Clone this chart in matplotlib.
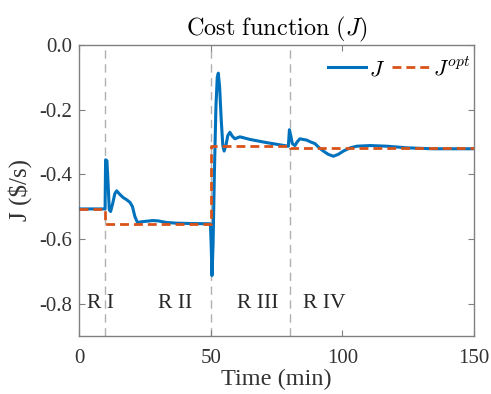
import matplotlib
matplotlib.use("Agg")
import matplotlib.pyplot as plt

plt.rcParams['font.family'] = ['Liberation Serif', 'DejaVu Serif']
plt.rcParams['mathtext.fontset'] = 'cm'

t_J = [0, 9.9, 10.1, 10.6, 11.0, 11.5, 12.0, 12.8, 13.6, 14.3, 15.5, 16.8, 18.0, 19.4,
       20.3, 21.2, 22.2, 23.5, 25.7, 28.0, 30.0, 33.3, 37.0, 42.0, 49.9, 50.2, 50.5,
       50.9, 51.4, 52.0, 52.5, 52.9, 53.4, 54.0, 54.6, 55.1, 55.8, 56.5, 57.3, 58.2,
       59.2, 61.1, 64.9, 68.7, 71.3, 75.0, 79.5, 79.9, 80.4, 81.0, 82.0, 83.0, 83.9,
       85.0, 86.4, 88.0, 89.6, 91.2, 92.8, 94.6, 96.6, 98.5, 100.4, 103.0, 105.5, 110.5,
       116.9, 124.5, 134.4, 150]
J = [-0.507, -0.507, -0.355, -0.358, -0.42, -0.51, -0.515, -0.49, -0.46, -0.451,
     -0.462, -0.472, -0.478, -0.487, -0.50, -0.53, -0.549, -0.547, -0.545, -0.543,
     -0.544, -0.549, -0.551, -0.552, -0.553, -0.62, -0.713, -0.62, -0.40, -0.19,
     -0.10, -0.087, -0.13, -0.23, -0.31, -0.328, -0.31, -0.28, -0.27, -0.282, -0.29,
     -0.284, -0.292, -0.298, -0.302, -0.307, -0.313, -0.262, -0.28, -0.305, -0.311,
     -0.298, -0.29, -0.292, -0.294, -0.300, -0.305, -0.318, -0.328, -0.338, -0.344,
     -0.338, -0.328, -0.318, -0.313, -0.311, -0.313, -0.318, -0.321, -0.321]

# J_opt (optimal cost) step values
t_opt = [0, 10, 10, 50, 50, 80, 80, 150]
J_opt = [-0.507, -0.507, -0.554, -0.554, -0.313, -0.313, -0.319, -0.319]

region_bounds = [10, 50, 80]
region_labels = ["R I", "R II", "R III", "R IV"]
region_x = [3, 30, 60, 85]

fig = plt.figure(figsize=(4.91, 3.94), dpi=100)
ax = fig.add_axes([0.1609, 0.1472, 0.8045, 0.7386])

for b in region_bounds:
    ax.axvline(b, color='#b0b0b0', lw=1.0, ls=(0, (6, 4)), zorder=1)

ax.plot(t_J, J, color='#0072BD', lw=2.2, label='$J$', zorder=3)
ax.plot(t_opt, J_opt, color='#D95319', lw=2.0, ls=(0, (3.2, 1.8)), label='$J^{opt}$', zorder=4)

for x, lab in zip(region_x, region_labels):
    ax.text(x, -0.8, lab, fontsize=15.5, color='#262626', ha='left', va='center', zorder=5)

ax.set_xlim(0, 150)
ax.set_ylim(-0.9, 0)
ax.set_xticks([0, 50, 100, 150])
ax.set_yticks([-0.8, -0.6, -0.4, -0.2, 0.0])
ax.set_yticklabels(['-0.8', '-0.6', '-0.4', '-0.2', '0.0'])
ax.tick_params(direction='in', top=True, right=True, labelsize=15, labelcolor='#333333',
               color='#808080', length=4, width=0.8)
ax.tick_params(axis='x', pad=9)
ax.tick_params(axis='y', pad=5)
for s in ax.spines.values():
    s.set_color('#808080')
    s.set_linewidth(1.0)

ax.set_xlabel('Time (min)', fontsize=17.5, color='#333333', labelpad=1)
ax.set_ylabel('J (\\$/s)', fontsize=18, color='#333333', labelpad=5)
ax.set_title(r'$\mathrm{Cost\ function\ }(J)$', fontsize=17.5, color='#000000', pad=7)

ax.legend(loc='upper right', bbox_to_anchor=(1.022, 1.0), ncol=2, frameon=False,
          fontsize=16, handlelength=1.7, columnspacing=0.3, handletextpad=0.15,
          borderaxespad=0.15)

fig.savefig('out.png', dpi=100)
